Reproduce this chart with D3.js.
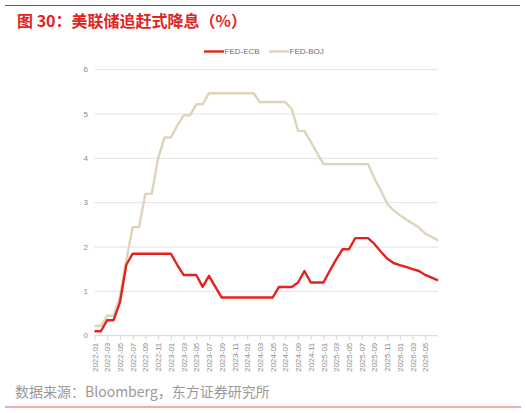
<!DOCTYPE html>
<html>
<head>
<meta charset="utf-8">
<script src="https://cdn.jsdelivr.net/npm/d3@7"></script>
<style>
	body { margin: 0; background: #fff; }
	svg { display: block; }
</style>
</head>
<body>
<svg></svg>
<script>
const width = 526;
const height = 413;

// monthly, 2022-01 .. 2026-07
const months = d3.range(55).map(i => {
	const y = 2022 + Math.floor(i / 12);
	const m = (i % 12) + 1;
	return `${y}-${m < 10 ? '0' + m : m}`;
});
const seriesNames = ['FED-ECB', 'FED-BOJ'];
const fedEcb = [
	0.1, 0.1, 0.35, 0.35, 0.75, 1.6, 1.85, 1.85, 1.85, 1.85, 1.85, 1.85, 1.85, 1.6,
	1.37, 1.37, 1.37, 1.1, 1.35, 1.1, 0.86, 0.86, 0.86, 0.86, 0.86, 0.86, 0.86, 0.86,
	0.86, 1.1, 1.1, 1.1, 1.2, 1.46, 1.2, 1.2, 1.2, 1.47, 1.72, 1.95, 1.95, 2.2,
	2.2, 2.2, 2.07, 1.9, 1.74, 1.64, 1.59, 1.55, 1.5, 1.46, 1.37, 1.31, 1.25
];
const fedBoj = [
	0.22, 0.22, 0.45, 0.45, 0.88, 1.7, 2.45, 2.45, 3.2, 3.2, 4.0, 4.47, 4.47, 4.73,
	4.97, 4.97, 5.22, 5.22, 5.47, 5.47, 5.47, 5.47, 5.47, 5.47, 5.47, 5.47, 5.27, 5.27,
	5.27, 5.27, 5.27, 5.12, 4.62, 4.62, 4.37, 4.12, 3.87, 3.87, 3.87, 3.87, 3.87, 3.87,
	3.87, 3.87, 3.55, 3.28, 2.98, 2.83, 2.72, 2.62, 2.53, 2.44, 2.3, 2.23, 2.15
];
const yTicks = [0, 1, 2, 3, 4, 5, 6];
const xTicks = months.filter((d, i) => i % 2 === 0 && i < 54);

const colorScale = d3.scaleOrdinal()
	.domain(seriesNames)
	.range(['#e3231e', '#ded4ba']);

const svg = d3.select('svg')
	.attr('width', width)
	.attr('height', height);

const xScale = d3.scalePoint()
	.domain(months)
	.range([94.5, 438]);
const yScale = d3.scaleLinear()
	.domain([0, 6])
	.range([335.7, 69.7]);

// header / footer rules
svg.append('line')
	.attr('x1', 5).attr('x2', 520).attr('y1', 5.5).attr('y2', 5.5)
	.attr('stroke', '#e3231e').attr('stroke-width', 1.2);
svg.append('text')
	.attr('x', 17).attr('y', 26.5)
	.attr('font-family', '"Noto Sans CJK SC", sans-serif')
	.attr('font-weight', 700)
	.attr('font-size', 16)
	.attr('fill', '#e3231e')
	.text('图 30：美联储追赶式降息（%）');
svg.append('text')
	.attr('x', 15).attr('y', 397)
	.attr('font-family', '"Noto Sans CJK SC", sans-serif')
	.attr('font-size', 14)
	.attr('fill', '#999999')
	.text('数据来源：Bloomberg，东方证券研究所');
svg.append('line')
	.attr('x1', 5).attr('x2', 521).attr('y1', 407).attr('y2', 407)
	.attr('stroke', '#ec8f8c').attr('stroke-width', 1.5);

// grid + y labels
const grid = svg.append('g');
grid.selectAll('line').data(yTicks.filter(d => d !== 0))
	.enter().append('line')
		.attr('x1', 94.5).attr('x2', 438)
		.attr('y1', d => yScale(d)).attr('y2', d => yScale(d))
		.attr('stroke', '#e2e2e2')
		.attr('stroke-width', 1);
grid.selectAll('text').data(yTicks)
	.enter().append('text')
		.attr('x', 88)
		.attr('y', d => yScale(d))
		.attr('dy', '0.32em')
		.attr('text-anchor', 'end')
		.attr('font-family', 'Liberation Sans, Arial, sans-serif')
		.attr('font-size', 8)
		.attr('fill', '#8c8c8c')
		.text(d => d);

// x axis
const xAxis = d3.axisBottom(xScale)
	.tickValues(xTicks)
	.tickSize(4)
	.tickSizeOuter(0);
const xg = svg.append('g')
	.attr('transform', `translate(0, ${yScale(0)})`)
	.call(xAxis);
xg.select('.domain')
	.attr('d', 'M94.5,0H438')
	.attr('stroke', '#d4d4d4');
xg.selectAll('.tick line').attr('stroke', '#d4d4d4');
xg.selectAll('.tick text')
	.attr('transform', 'rotate(-90)')
	.attr('x', -7)
	.attr('y', 0)
	.attr('dy', '0.32em')
	.attr('text-anchor', 'end')
	.attr('font-family', 'Liberation Sans, Arial, sans-serif')
	.attr('font-size', 8)
	.attr('fill', '#8c8c8c');

// lines
const line = d3.line()
	.x((d, i) => xScale(months[i]))
	.y(d => yScale(d));
svg.append('path')
	.datum(fedBoj)
	.attr('d', line)
	.attr('fill', 'none')
	.attr('stroke', colorScale('FED-BOJ'))
	.attr('stroke-width', 2.4)
	.attr('stroke-linejoin', 'round');
svg.append('path')
	.datum(fedEcb)
	.attr('d', line)
	.attr('fill', 'none')
	.attr('stroke', colorScale('FED-ECB'))
	.attr('stroke-width', 2.4)
	.attr('stroke-linejoin', 'round');

// legend
const legend = svg.append('g')
	.attr('transform', 'translate(204, 51.5)');
const items = legend.selectAll('g').data(seriesNames)
	.enter().append('g')
		.attr('transform', (d, i) => `translate(${i * 65}, 0)`);
items.append('line')
	.attr('x1', 0).attr('x2', 20)
	.attr('stroke', d => colorScale(d))
	.attr('stroke-width', 2.4);
items.append('text')
	.attr('x', 20.5)
	.attr('dy', '0.32em')
	.attr('font-family', 'Liberation Sans, Arial, sans-serif')
	.attr('font-size', 8)
	.attr('fill', '#6e6e6e')
	.text(d => d);
</script>
</body>
</html>
